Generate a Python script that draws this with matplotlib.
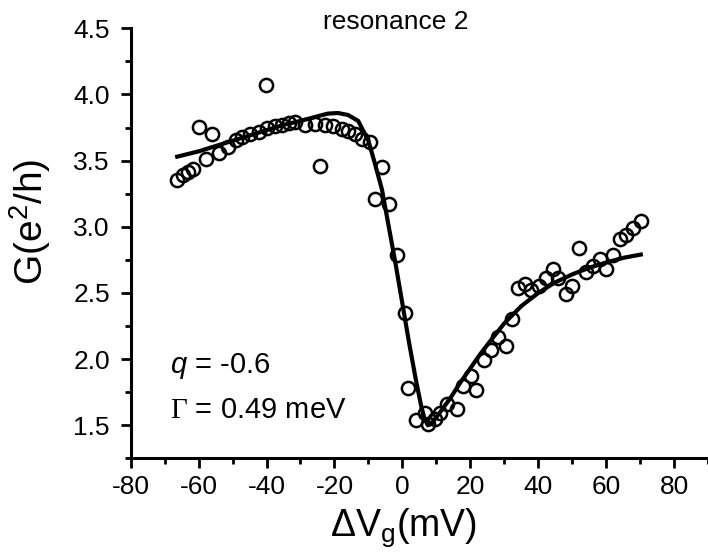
import matplotlib
matplotlib.use("Agg")
import matplotlib.pyplot as plt
from matplotlib.ticker import MultipleLocator

plt.rcParams['font.family'] = ['Liberation Sans', 'DejaVu Sans']
plt.rcParams['axes.unicode_minus'] = False
plt.rcParams['mathtext.fontset'] = 'custom'
plt.rcParams['mathtext.rm'] = 'Liberation Serif'
plt.rcParams['mathtext.it'] = 'Liberation Sans:italic'
plt.rcParams['mathtext.sf'] = 'Liberation Sans'

# measured points
vg = [-66.3, -64.5, -63.2, -61.7, -59.9, -57.8, -56.2, -53.9, -51.4, -49.0,
      -47.3, -44.8, -42.3, -40.1, -39.9, -37.4, -35.5, -33.5, -31.6, -28.7,
      -25.7, -24.2, -22.8, -20.3, -17.9, -15.9, -14.0, -12.0, -9.6, -8.1,
      -6.0, -3.9, -1.5, 0.7, 1.7, 4.0, 6.6, 7.6, 9.6, 11.1,
      13.0, 16.0, 17.9, 20.3, 21.8, 24.1, 26.2, 28.2, 30.4, 32.3,
      34.0, 36.0, 37.9, 40.2, 42.3, 44.3, 45.8, 48.2, 50.0, 52.1,
      54.1, 56.2, 58.2, 60.1, 62.1, 64.1, 66.0, 68.0, 70.2]
g = [3.35, 3.39, 3.415, 3.44, 3.755, 3.51, 3.70, 3.56, 3.60, 3.655,
     3.675, 3.70, 3.718, 4.07, 3.744, 3.76, 3.77, 3.786, 3.794, 3.77,
     3.776, 3.46, 3.77, 3.76, 3.736, 3.725, 3.70, 3.66, 3.642, 3.21,
     3.45, 3.17, 2.79, 2.345, 1.785, 1.537, 1.59, 1.51, 1.55, 1.59,
     1.66, 1.625, 1.80, 1.87, 1.77, 1.99, 2.07, 2.17, 2.10, 2.30,
     2.534, 2.57, 2.52, 2.55, 2.61, 2.68, 2.61, 2.49, 2.55, 2.84,
     2.66, 2.70, 2.755, 2.68, 2.79, 2.91, 2.94, 2.99, 3.045]

# Fano fit curve
fit_vg = [-66.3, -60, -55, -50, -45, -40, -35, -30, -25, -22, -19, -16, -13,
          -10, -8, -6, -4, -2, 0, 2, 4, 5.5, 6.5, 7.5, 8.5, 10, 12, 14, 17,
          20, 23, 26, 30, 35, 40, 45, 50, 55, 60, 65, 70.2]
fit_g = [3.53, 3.57, 3.61, 3.65, 3.69, 3.73, 3.77, 3.80, 3.835, 3.855, 3.86,
         3.845, 3.80, 3.65, 3.47, 3.28, 3.00, 2.72, 2.42, 2.12, 1.84, 1.65,
         1.55, 1.50, 1.51, 1.56, 1.63, 1.70, 1.82, 1.93, 2.04, 2.14, 2.27,
         2.40, 2.50, 2.58, 2.64, 2.69, 2.73, 2.765, 2.79]

fig = plt.figure(figsize=(7.08, 5.54), dpi=100)
ax = fig.add_axes([0.1846, 0.1727, 0.8154, 0.7762])

ax.plot(fit_vg, fit_g, color='black', lw=3, solid_joinstyle='round', zorder=2)
ax.plot(vg, g, 'o', mfc='none', mec='black', ms=9.5, mew=1.8, zorder=3)

ax.set_xlim(-80, 90)
ax.set_ylim(1.25, 4.5)
ax.xaxis.set_major_locator(MultipleLocator(20))
ax.xaxis.set_minor_locator(MultipleLocator(10))
ax.yaxis.set_major_locator(MultipleLocator(0.5))
ax.yaxis.set_minor_locator(MultipleLocator(0.25))
ax.set_yticks([1.5, 2.0, 2.5, 3.0, 3.5, 4.0, 4.5])
ax.set_xticks([-80, -60, -40, -20, 0, 20, 40, 60, 80])

for s in ['top', 'right']:
    ax.spines[s].set_visible(False)
for s in ['left', 'bottom']:
    ax.spines[s].set_linewidth(2.2)
ax.tick_params(which='major', direction='out', length=7, width=2, labelsize=19)
ax.tick_params(which='minor', direction='out', length=4, width=2)
ax.tick_params(axis='y', which='major', pad=8)
ax.tick_params(axis='x', which='major', pad=5)

fig.text(396 / 708, 1 - 29 / 554, 'resonance 2', ha='center', va='baseline', fontsize=19)
fig.text(30 / 708, 1 - 222 / 554, 'G(e$^\\mathsf{2}$/h)', rotation=90,
         ha='center', va='center', fontsize=28)
fig.text(404 / 708, 1 - 536 / 554, '\u0394V$_\\mathsf{g}$(mV)', ha='center',
         va='baseline', fontsize=27)

fig.text(170 / 708, 1 - 373 / 554, '$\\mathit{q}$ = -0.6', ha='left', va='baseline', fontsize=21)
fig.text(170 / 708, 1 - 418 / 554, '$\\Gamma$ = 0.49 meV', ha='left', va='baseline', fontsize=21)

fig.savefig('out.png', dpi=100)
